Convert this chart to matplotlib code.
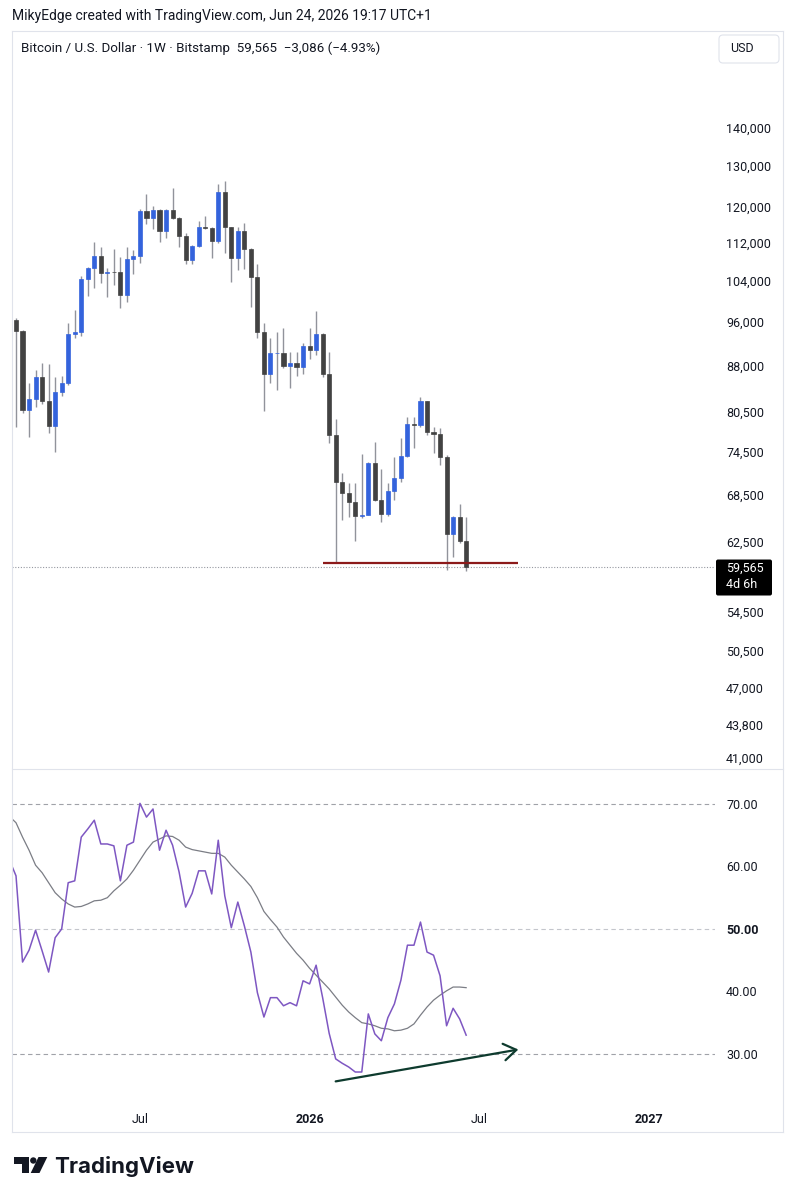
import matplotlib
matplotlib.use('Agg')
import matplotlib.pyplot as plt
import pandas as pd
from matplotlib.patches import FancyBboxPatch, Polygon, Circle
from matplotlib.lines import Line2D
from matplotlib.ticker import NullLocator

plt.rcParams['font.family'] = ['Roboto', 'DejaVu Sans']

# weekly BTC/USD candles (Bitstamp), first week starts 2025-02-24
first_week = '2025-02-24'
opens = [96200, 94300, 80800, 82500, 86100, 82300, 78300, 83600, 85100, 93600,
         94100, 104200, 106600, 109100, 105600, 105800, 105700, 101000, 108500, 109100,
         119100, 117500, 119300, 114400, 119300, 117500, 113500, 108300, 111300, 115300,
         115200, 112200, 123600, 115300, 108700, 114600, 110600, 104600, 94000, 86700,
         90200, 90300, 88100, 88600, 87900, 91600, 90900, 93600, 86600, 76900,
         70200, 68800, 67500, 65700, 65900, 72900, 67800, 66000, 69000, 70800,
         73900, 78600, 78500, 82200, 77400, 77100, 73700, 63400, 65600, 62651]
highs = [96600, 94400, 85100, 87400, 88600, 88400, 86100, 86400, 95800, 98100,
         104800, 106800, 112000, 110900, 106600, 110600, 108900, 110900, 110400, 119600,
         123100, 120300, 119500, 119500, 124600, 117700, 114000, 111500, 116800, 118000,
         115400, 125600, 126300, 115500, 115500, 116400, 110800, 107400, 95800, 93000,
         94100, 94700, 90400, 90400, 92000, 94700, 97900, 93800, 90400, 79400,
         71500, 70100, 70100, 74100, 73000, 75900, 72000, 70100, 73700, 76500,
         79700, 79700, 82800, 82300, 78100, 78000, 74000, 65700, 67300, 65600]
lows = [78100, 80300, 76600, 81200, 81800, 77200, 74400, 83100, 84900, 93000,
        93400, 100800, 102400, 103400, 100600, 103000, 98600, 99800, 105400, 107600,
        116000, 114900, 112000, 112900, 117300, 110900, 107400, 107400, 110900, 114900,
        108700, 111800, 109800, 103600, 106200, 106400, 98800, 93000, 80600, 85200,
        84000, 87700, 84400, 86400, 86700, 89300, 90000, 86100, 75800, 60000,
        65200, 65600, 62600, 65500, 65800, 67700, 65000, 65700, 67800, 70200,
        73700, 75000, 78100, 76900, 74300, 72600, 59200, 60700, 62400, 59100]
closes = [94300, 80800, 82500, 86100, 82300, 78300, 83600, 85100, 93600, 94100,
          104200, 106600, 109100, 105600, 105800, 105700, 101000, 108500, 109100, 119100,
          117500, 119300, 114400, 119300, 117500, 113500, 108300, 111300, 115300, 115200,
          112200, 123600, 115300, 108700, 114600, 110600, 104600, 94000, 86700, 90200,
          90300, 88100, 88600, 87900, 91600, 90900, 93600, 86600, 76900, 70200,
          68800, 67500, 65700, 65900, 72900, 67800, 66000, 69000, 70800, 73900,
          78600, 78500, 82200, 77400, 77100, 73700, 63400, 65600, 62651, 59565]

# RSI(14) and its moving average, weekly (first value = week before the first candle)
rsi_start = '2025-02-17'
rsi = [61.0, 58.5, 44.7, 46.6, 49.8, 46.5, 43.1, 48.6, 50.0, 57.4, 57.7,
       64.7, 66.0, 67.4, 63.6, 63.6, 63.3, 57.7, 63.4, 63.9, 70.1,
       67.9, 69.2, 62.6, 65.8, 63.4, 59.1, 53.5, 55.7, 59.3, 59.3,
       55.6, 64.2, 55.3, 50.2, 54.3, 50.5, 46.3, 39.8, 35.9, 39.0,
       39.0, 37.7, 38.2, 37.7, 41.7, 41.2, 44.2, 39.0, 33.3, 29.2,
       28.5, 27.9, 27.1, 27.1, 36.4, 33.2, 32.1, 35.8, 38.0, 41.8,
       47.4, 47.4, 51.1, 46.3, 45.8, 42.5, 34.5, 37.3, 35.6, 33.0]
rsi_ma = [68.0, 67.0, 64.7, 62.6, 60.2, 59.0, 57.4, 55.8, 54.8, 54.0, 53.5,
          53.6, 54.0, 54.5, 54.6, 55.0, 56.1, 57.0, 58.0, 59.4, 61.0,
          62.6, 63.9, 64.4, 64.9, 64.8, 64.2, 63.1, 62.7, 62.5, 62.3,
          62.1, 62.1, 61.5, 60.2, 59.1, 58.0, 56.8, 55.0, 52.8, 51.5,
          50.3, 48.7, 47.4, 46.1, 45.0, 43.7, 42.6, 41.5, 40.4, 39.1,
          37.8, 36.7, 35.8, 35.0, 34.8, 34.5, 34.1, 34.0, 33.7, 33.8,
          34.1, 34.8, 36.2, 37.5, 38.6, 39.4, 40.1, 40.7, 40.7, 40.6]

price_ticks = [140000, 130000, 120000, 112000, 104000, 96000, 88000, 80500,
               74500, 68500, 62500, 54500, 50500, 47000, 43800, 41000]
rsi_ticks = [70, 60, 50, 40, 30]
rsi_bands = [70, 50, 30]
time_ticks = ['2025-07-07', '2026-01-05', '2026-07-06', '2027-01-04']
time_labels = ['Jul', '2026', 'Jul', '2027']

# drawings
support_level = 60000
support_span = ['2026-01-19', '2026-08-17']
div_dates = ['2026-02-02', '2026-08-17']
div_values = [25.6, 30.7]

last_price = closes[-1]
prev_close = closes[-2]
time_left = '4d 6h'

weeks = pd.date_range(first_week, periods=len(closes), freq='7D')
rsi_weeks = pd.date_range(rsi_start, periods=len(rsi), freq='7D')

W, H = 796, 1200
fig = plt.figure(figsize=(W / 100, H / 100), dpi=100)
inch = fig.dpi_scale_trans


def P(x, y):
    # pixel position (from top-left) -> inches for dpi_scale_trans
    return x / 100, (H - y) / 100


left, right = 12, 715
ax = fig.add_axes([left / W, 1 - 769 / H, (right - left) / W, (769 - 33) / H])
ax2 = fig.add_axes([left / W, 1 - 1102 / H, (right - left) / W, (1102 - 769) / H], sharex=ax)

text_c = '#131722'
up_c, down_c, wick_c = '#3463dc', '#424242', '#91939b'

# candles
colors = [up_c if c >= o else down_c for o, c in zip(opens, closes)]
bottoms = [min(o, c) for o, c in zip(opens, closes)]
heights = [abs(c - o) for o, c in zip(opens, closes)]
ax.vlines(weeks, lows, highs, color=wick_c, lw=1, zorder=2)
ax.bar(weeks, heights, bottom=bottoms, width=4.4, color=colors, edgecolor=colors,
       lw=0.5, zorder=3)

ax.set_yscale('log')
ax.set_ylim(40150, 168400)
ax.set_xlim(weeks[0] - pd.Timedelta(days=4.3), weeks[0] + pd.Timedelta(days=750))
ax.yaxis.tick_right()
ax.set_yticks(price_ticks)
ax.set_yticklabels([f'{v:,}' for v in price_ticks])
ax.yaxis.set_minor_locator(NullLocator())
ax.tick_params(axis='y', length=0, pad=8, labelsize=9, labelcolor=text_c)
ax.tick_params(axis='x', length=0, labelbottom=False)
for s in ax.spines.values():
    s.set_visible(False)

# support line and last price line
ax.hlines(support_level, pd.Timestamp(support_span[0]), pd.Timestamp(support_span[1]),
          color='#8c1a1a', lw=1.6, zorder=4)
ax.axhline(last_price, color='#9598a1', lw=0.8, ls=(0, (1, 1.5)), zorder=1)

# RSI pane
ax2.plot(rsi_weeks, rsi, color='#7e57c2', lw=1.1, zorder=3)
ax2.plot(rsi_weeks, rsi_ma, color='#7b7d85', lw=0.9, zorder=2)
for b in rsi_bands:
    ax2.axhline(b, color='#c4c6cc' if b == 50 else '#a0a2a8', lw=0.8, ls=(0, (4, 3)), zorder=1)
ax2.annotate('', xy=(pd.Timestamp(div_dates[1]), div_values[1]),
             xytext=(pd.Timestamp(div_dates[0]), div_values[0]),
             arrowprops=dict(arrowstyle='->,head_length=0.9,head_width=0.6',
                             color='#0e3b2e', lw=1.6, shrinkA=0, shrinkB=0))
ax2.set_ylim(22.3, 75.6)
ax2.yaxis.tick_right()
ax2.set_yticks(rsi_ticks)
ax2.set_yticklabels([f'{v:.2f}' for v in rsi_ticks])
for t, v in zip(ax2.get_yticklabels(), rsi_ticks):
    if v == 50:
        t.set_fontweight('bold')
ax2.tick_params(axis='y', length=0, pad=8, labelsize=9, labelcolor=text_c)
ax2.set_xticks(pd.to_datetime(time_ticks))
ax2.set_xticklabels(time_labels)
for t, lab in zip(ax2.get_xticklabels(), time_labels):
    if lab.isdigit():
        t.set_fontweight('bold')
ax2.tick_params(axis='x', length=0, pad=8, labelsize=9, labelcolor=text_c)
for s in ax2.spines.values():
    s.set_visible(False)

# panel frame
border = '#e0e3eb'
for (x0, y0, x1, y1) in [(12, 31, 783, 31), (12, 1132, 783, 1132), (12, 769, 783, 769),
                         (12, 31, 12, 1132), (783, 31, 783, 1132)]:
    a, b = P(x0, y0)
    c, d = P(x1, y1)
    fig.add_artist(Line2D([a, c], [b, d], transform=inch, color=border, lw=0.8))

# header texts
fig.text(*P(12, 16), 'MikyEdge created with TradingView.com, Jun 24, 2026 19:17 UTC+1',
         transform=inch, va='center', fontsize=10, color=text_c)
chg = last_price - prev_close
header = (f'Bitcoin / U.S. Dollar \u00b7 1W \u00b7 Bitstamp  {last_price:,}  '
          f'\u2212{abs(chg):,} (\u2212{abs(chg) / prev_close * 100:.2f}%)')
fig.text(*P(21, 48), header, transform=inch, va='center', fontsize=9.6, color=text_c)

ux, uy = P(719, 63)
fig.add_artist(FancyBboxPatch((ux, uy), 0.60, 0.28, transform=inch,
                              boxstyle='round,pad=0,rounding_size=0.04',
                              fc='white', ec=border, lw=0.8))
fig.text(*P(742, 49), 'USD', transform=inch, ha='center', va='center', fontsize=9, color=text_c)

# last price label on the scale
fig.canvas.draw()
py = ax.transData.transform((0, last_price))[1] / 100
fig.add_artist(FancyBboxPatch((716 / 100, py - 0.29), 0.56, 0.36, transform=inch,
                              boxstyle='round,pad=0,rounding_size=0.02', fc='black', ec='none'))
fig.text(726 / 100, py - 0.02, f'{last_price:,}', transform=inch, va='center',
         fontsize=9, color='white')
fig.text(726 / 100, py - 0.18, time_left, transform=inch, va='center',
         fontsize=9, color='white')

# TradingView logo
dark = '#131722'
fig.add_artist(Polygon([P(14, 1157), P(29, 1157), P(29, 1173), P(21.5, 1173),
                        P(21.5, 1164), P(14, 1164)], closed=True, transform=inch, fc=dark, ec='none'))
fig.add_artist(Circle(P(33.3, 1160.5), 0.032, transform=inch, fc=dark, ec='none'))
fig.add_artist(Polygon([P(38.5, 1157), P(47.3, 1157), P(39.5, 1173), P(30.7, 1173)],
                       closed=True, transform=inch, fc=dark, ec='none'))
fig.text(*P(54, 1173), 'TradingView', transform=inch, va='baseline', fontsize=16,
         fontweight='bold', color=dark, family=['Inter', 'DejaVu Sans'])

fig.savefig('out.png', dpi=100, facecolor='white')
